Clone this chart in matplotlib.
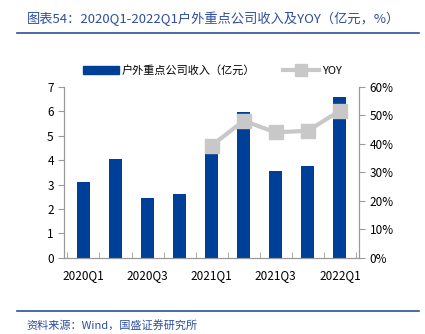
import numpy as np
import matplotlib.pyplot as plt
from matplotlib.lines import Line2D

plt.rcParams['font.family'] = ['Noto Sans CJK SC', 'DejaVu Sans']

quarters = ['2020Q1', '2020Q2', '2020Q3', '2020Q4', '2021Q1',
            '2021Q2', '2021Q3', '2021Q4', '2022Q1']
revenue = [3.10, 4.03, 2.47, 2.60, 4.33, 5.98, 3.56, 3.77, 6.58]
yoy_quarters = ['2021Q1', '2021Q2', '2021Q3', '2021Q4', '2022Q1']
yoy = [39.4, 48.1, 44.0, 44.6, 51.6]

bar_color = '#003f97'
line_color = '#c8c8c8'
text_blue = '#2e4d9c'

fig = plt.figure(figsize=(4.25, 3.34), dpi=100)
ax = fig.add_axes([0.151, 0.228, 0.694, 0.512])
ax2 = ax.twinx()

x = np.arange(len(quarters))
ax.bar(x, revenue, width=0.4, color=bar_color, zorder=2)
ax.set_ylim(0, 7)
ax.set_xlim(-0.6, len(quarters) - 0.4)
ax.set_yticks(range(0, 8))

# YOY line drawn over the bars
xi = [quarters.index(q) for q in yoy_quarters]
ax2.plot(xi, yoy, color=line_color, lw=3, marker='s', ms=10, zorder=3)
ax2.set_ylim(0, 60)
ax2.set_yticks(range(0, 61, 10))
ax2.set_yticklabels([f'{v}%' for v in range(0, 61, 10)])
ax2.patch.set_visible(False)

ax.set_xticks(x[::2])
ax.set_xticklabels(quarters[::2])
ax.set_xticks(np.arange(-0.5, len(quarters), 1), minor=True)
ax.tick_params(axis='x', which='major', length=0, pad=8, labelsize=8.5)
ax.tick_params(axis='x', which='minor', length=4, color='#999999', direction='in')
ax.tick_params(axis='y', length=4, color='#999999', labelsize=8.5)
ax2.tick_params(axis='y', length=4, color='#999999', labelsize=8.5)

for a in (ax, ax2):
    a.spines['top'].set_visible(False)
    for s in ('left', 'right', 'bottom'):
        a.spines[s].set_color('#999999')

handles = [plt.Rectangle((0, 0), 1, 1, color=bar_color),
           Line2D([], [], color=line_color, lw=3, marker='s', ms=9)]
fig.legend(handles, ['户外重点公司收入（亿元）', 'YOY'], loc='center',
           bbox_to_anchor=(0.5, 0.79), ncol=2, frameon=False, fontsize=8,
           handlelength=3.2, columnspacing=2.5, handletextpad=0.3)

fig.text(0.063, 0.945, '图表54：2020Q1-2022Q1户外重点公司收入及YOY（亿元，%）',
         color=text_blue, fontsize=9.5, style='italic', va='center')
fig.add_artist(Line2D([0.04, 0.985], [0.9, 0.9], color=text_blue, lw=1.2))
fig.add_artist(Line2D([0.04, 0.985], [0.068, 0.068], color=text_blue, lw=1.2))
fig.text(0.063, 0.025, '资料来源：Wind，国盛证券研究所', color=text_blue,
         fontsize=8, style='italic', va='center')

fig.savefig('out.png', dpi=100)
